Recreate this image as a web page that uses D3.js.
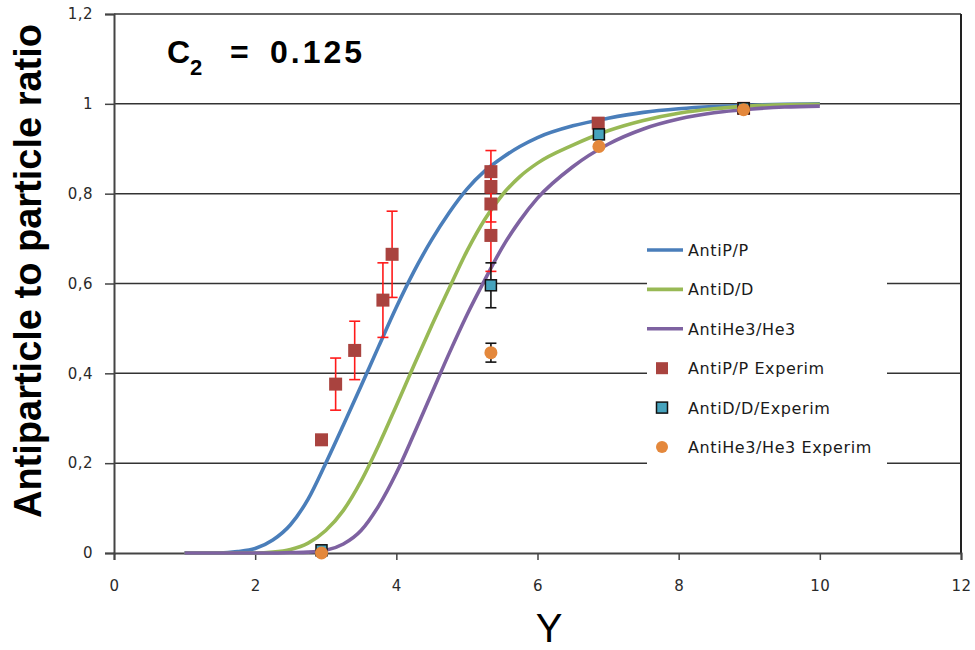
<!DOCTYPE html>
<html>
<head>
<meta charset="utf-8">
<script src="https://cdn.jsdelivr.net/npm/d3@7"></script>
<style>
  body { margin: 0; background: #fff; }
  svg { display: block; }
</style>
</head>
<body>
<script>
"use strict";

// model curves (rapidity Y -> ratio)
var curveY = [1, 1.5, 1.75, 2, 2.25, 2.5, 2.75, 3, 3.25, 3.5, 3.75, 4, 4.25, 4.5, 4.75, 5, 5.25, 5.5, 5.75, 6, 6.5, 7, 7.5, 8, 8.5, 9, 9.5, 10];
var antiP   = [0, 0, 0.003, 0.01, 0.029, 0.063, 0.12, 0.2, 0.285, 0.372, 0.46, 0.547, 0.627, 0.697, 0.758, 0.81, 0.85, 0.88, 0.905, 0.925, 0.951, 0.968, 0.981, 0.989, 0.994, 0.997, 0.999, 1.0];
var antiD   = [0, 0, 0, 0, 0.002, 0.008, 0.022, 0.05, 0.095, 0.16, 0.24, 0.328, 0.418, 0.506, 0.59, 0.672, 0.742, 0.797, 0.838, 0.868, 0.908, 0.94, 0.963, 0.979, 0.989, 0.995, 0.998, 0.999];
var antiHe3 = [0, 0, 0, 0, 0, 0.001, 0.002, 0.006, 0.02, 0.05, 0.105, 0.178, 0.265, 0.355, 0.445, 0.53, 0.607, 0.68, 0.74, 0.79, 0.86, 0.91, 0.944, 0.966, 0.98, 0.988, 0.993, 0.995];

// experiment
var expPx   = [2.94, 3.14, 3.41, 3.81, 3.94, 5.34, 5.34, 5.34, 5.34, 6.86, 8.92];
var expPy   = [0.252, 0.376, 0.451, 0.563, 0.665, 0.849, 0.816, 0.777, 0.707, 0.957, 0.99];
var expPerr = [0, 0.058, 0.065, 0.083, 0.096, 0.047, 0.04, 0.04, 0.08, 0, 0];
var expDx   = [2.94, 5.34, 6.87, 8.92];
var expDy   = [0.006, 0.596, 0.932, 0.990];
var expDerr = [0, 0.05, 0, 0];
var expHx   = [2.94, 5.34, 6.87, 8.92];
var expHy   = [0.0, 0.446, 0.905, 0.987];
var expHerr = [0, 0.021, 0, 0];

var xTicks = [0, 2, 4, 6, 8, 10, 12];
var yTicks = [0, 0.2, 0.4, 0.6, 0.8, 1, 1.2];
var legendNames = ["AntiP/P", "AntiD/D", "AntiHe3/He3", "AntiP/P Experim", "AntiD/D/Experim", "AntiHe3/He3 Experim"];

var colors = {
  p: "#4a7eba", d: "#98b955", he: "#7e62a1",
  pExp: "#a9433f", dExp: "#46a3bd", heExp: "#e4883c"
};

var width = 975, height = 650;
var plot = { l: 114, r: 961, t: 14, b: 553 };

var svg = d3.select("body").append("svg")
  .attr("width", width)
  .attr("height", height)
  .style("font-family", "'DejaVu Sans', Verdana, sans-serif");

svg.append("rect").attr("width", width).attr("height", height).attr("fill", "#fff");

var x = d3.scaleLinear().domain([0, 12]).range([plot.l, plot.r]);
var y = d3.scaleLinear().domain([0, 1.2]).range([plot.b, plot.t]);
var fmt = function(d) { return String(d).replace(".", ","); };

// gridlines
svg.append("g")
  .selectAll("line")
  .data(yTicks.slice(1))
  .join("line")
  .attr("x1", plot.l).attr("x2", plot.r)
  .attr("y1", function(d) { return y(d); })
  .attr("y2", function(d) { return y(d); })
  .attr("stroke", "#333")
  .attr("stroke-width", 1.5);

// right border
svg.append("line")
  .attr("x1", plot.r).attr("x2", plot.r)
  .attr("y1", plot.t).attr("y2", plot.b)
  .attr("stroke", "#222")
  .attr("stroke-width", 2);

// axes
var xAxis = svg.append("g")
  .attr("transform", "translate(0," + plot.b + ")")
  .call(d3.axisBottom(x).tickValues(xTicks).tickSize(7).tickPadding(20).tickFormat(fmt));
var yAxis = svg.append("g")
  .attr("transform", "translate(" + plot.l + ",0)")
  .call(d3.axisLeft(y).tickValues(yTicks).tickSize(9).tickPadding(12).tickFormat(fmt));

[xAxis, yAxis].forEach(function(a) {
  a.select(".domain").attr("stroke", "#444").attr("stroke-width", 2);
  a.selectAll(".tick line").attr("stroke", "#444").attr("stroke-width", 1.5);
  a.selectAll(".tick text")
    .attr("fill", "#2a2a2a")
    .style("font-size", "15px")
    .style("letter-spacing", "0.5px")
    .style("font-family", "'DejaVu Sans', Verdana, sans-serif");
});

// model lines
var line = d3.line()
  .x(function(d) { return x(d[0]); })
  .y(function(d) { return y(d[1]); })
  .curve(d3.curveMonotoneX);

[[antiP, colors.p], [antiD, colors.d], [antiHe3, colors.he]].forEach(function(s) {
  svg.append("path")
    .datum(curveY.map(function(v, i) { return [v, s[0][i]]; }))
    .attr("fill", "none")
    .attr("stroke", s[1])
    .attr("stroke-width", 3.6)
    .attr("stroke-linejoin", "round")
    .attr("d", line);
});

// error bars
function errorBars(xs, ys, errs, color) {
  var pts = xs.map(function(v, i) { return { x: v, y: ys[i], e: errs[i] }; })
    .filter(function(d) { return d.e > 0; });
  var g = svg.append("g").attr("stroke", color).attr("stroke-width", 1.6);
  g.selectAll(".v").data(pts).join("line")
    .attr("x1", function(d) { return x(d.x); })
    .attr("x2", function(d) { return x(d.x); })
    .attr("y1", function(d) { return y(d.y - d.e); })
    .attr("y2", function(d) { return y(d.y + d.e); });
  [-1, 1].forEach(function(sgn) {
    g.selectAll(".c" + sgn).data(pts).join("line")
      .attr("x1", function(d) { return x(d.x) - 5.5; })
      .attr("x2", function(d) { return x(d.x) + 5.5; })
      .attr("y1", function(d) { return y(d.y + sgn * d.e); })
      .attr("y2", function(d) { return y(d.y + sgn * d.e); });
  });
}

errorBars(expPx, expPy, expPerr, "#ff1a1a");

svg.append("g")
  .selectAll("rect")
  .data(expPx.map(function(v, i) { return [v, expPy[i]]; }))
  .join("rect")
  .attr("x", function(d) { return x(d[0]) - 6.5; })
  .attr("y", function(d) { return y(d[1]) - 6.5; })
  .attr("width", 13).attr("height", 13)
  .attr("fill", colors.pExp);

errorBars(expDx, expDy, expDerr, "#111");

svg.append("g")
  .selectAll("rect")
  .data(expDx.map(function(v, i) { return [v, expDy[i]]; }))
  .join("rect")
  .attr("x", function(d) { return x(d[0]) - 5.5; })
  .attr("y", function(d) { return y(d[1]) - 5.5; })
  .attr("width", 11).attr("height", 11)
  .attr("fill", colors.dExp)
  .attr("stroke", "#111")
  .attr("stroke-width", 1.5);

errorBars(expHx, expHy, expHerr, "#111");

svg.append("g")
  .selectAll("circle")
  .data(expHx.map(function(v, i) { return [v, expHy[i]]; }))
  .join("circle")
  .attr("cx", function(d) { return x(d[0]); })
  .attr("cy", function(d) { return y(d[1]); })
  .attr("r", 6.5)
  .attr("fill", colors.heExp);

// legend
var legend = svg.append("g").attr("transform", "translate(647,230)");
legend.append("rect")
  .attr("width", 240).attr("height", 238)
  .attr("fill", "#fff");

var legendKinds = ["line", "line", "line", "square", "boxed", "circle"];
var legendColors = [colors.p, colors.d, colors.he, colors.pExp, colors.dExp, colors.heExp];

legendNames.forEach(function(name, i) {
  var cy = 20 + i * 39.4;
  var item = legend.append("g").attr("transform", "translate(0," + cy + ")");
  if (legendKinds[i] === "line") {
    item.append("line")
      .attr("x1", 0).attr("x2", 36)
      .attr("stroke", legendColors[i])
      .attr("stroke-width", 3.6);
  } else if (legendKinds[i] === "square") {
    item.append("rect")
      .attr("x", 9).attr("y", -6).attr("width", 12).attr("height", 12)
      .attr("fill", legendColors[i]);
  } else if (legendKinds[i] === "boxed") {
    item.append("rect")
      .attr("x", 9.5).attr("y", -5.5).attr("width", 11).attr("height", 11)
      .attr("fill", legendColors[i])
      .attr("stroke", "#111").attr("stroke-width", 1.5);
  } else {
    item.append("circle")
      .attr("cx", 15).attr("r", 6)
      .attr("fill", legendColors[i]);
  }
  item.append("text")
    .attr("x", 41)
    .attr("y", 6)
    .attr("fill", "#1a1a1a")
    .style("font-size", "16px")
    .style("letter-spacing", "0.6px")
    .text(name);
});

// titles
var title = svg.append("text")
  .attr("x", 167).attr("y", 63)
  .style("font-family", "'Liberation Sans', Arial, sans-serif")
  .style("font-weight", "bold")
  .style("font-size", "32px")
  .attr("fill", "#000");
title.append("tspan").text("C");
title.append("tspan").attr("dy", 12).style("font-size", "22px").text("2");
title.append("tspan").attr("x", 230).attr("dy", -12).text("=");
title.append("tspan").attr("x", 270).attr("textLength", 92).attr("lengthAdjust", "spacing").text("0.125");

svg.append("text")
  .attr("transform", "translate(41,271) rotate(-90)")
  .attr("text-anchor", "middle")
  .style("font-family", "'Liberation Sans', Arial, sans-serif")
  .style("font-weight", "bold")
  .style("font-size", "38px")
  .attr("fill", "#000")
  .text("Antiparticle to particle ratio");

svg.append("text")
  .attr("x", 549).attr("y", 642)
  .attr("text-anchor", "middle")
  .style("font-family", "'Liberation Sans', Arial, sans-serif")
  .style("font-size", "40px")
  .attr("fill", "#000")
  .text("Y");
</script>
</body>
</html>
